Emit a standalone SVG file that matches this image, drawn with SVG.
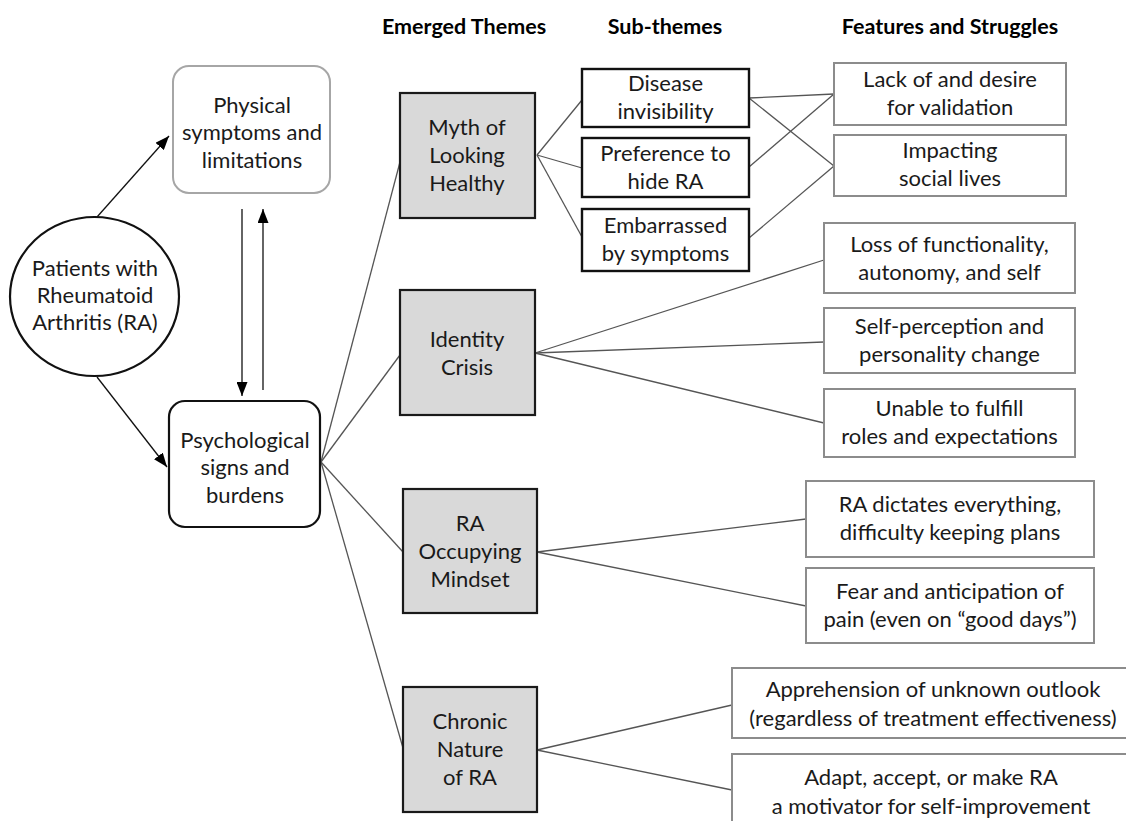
<svg xmlns="http://www.w3.org/2000/svg" width="1126" height="821" viewBox="0 0 1126 821">
<style>
text{font-family:Lato,"Liberation Sans",sans-serif;font-size:22px;fill:#1a1a1a;text-anchor:middle}
.hd{font-weight:bold;font-size:21.5px;fill:#000}
.theme{fill:#d9d9d9;stroke:#1a1a1a;stroke-width:2.2}
.sub{fill:#fff;stroke:#111;stroke-width:2.4}
.feat{fill:#fff;stroke:#8c8c8c;stroke-width:2}
.ln{stroke:#555;stroke-width:1.3;fill:none}
.ar{stroke:#111;stroke-width:1.3;fill:none;marker-end:url(#ah)}
</style>
<defs>
<marker id="ah" viewBox="0 0 14 11" refX="14" refY="5.5" markerWidth="14" markerHeight="11" markerUnits="userSpaceOnUse" orient="auto">
<path d="M0,0 L14,5.5 L0,11 Z" fill="#000"/>
</marker>
</defs>
<rect width="1126" height="821" fill="#fff"/>
<g id="headers">
<text class="hd" x="464" y="34">Emerged Themes</text>
<text class="hd" x="665" y="34">Sub-themes</text>
<text class="hd" x="950" y="34">Features and Struggles</text>
</g>
<g id="connectors">
<line class="ar" x1="97" y1="217" x2="169" y2="136"/>
<line class="ar" x1="97" y1="377" x2="167" y2="467"/>
<line class="ar" x1="242" y1="209" x2="242" y2="396"/>
<line class="ar" x1="263" y1="390" x2="263" y2="209"/>
<line class="ln" x1="321" y1="462" x2="400" y2="162"/>
<line class="ln" x1="321" y1="462" x2="400" y2="355"/>
<line class="ln" x1="321" y1="462" x2="403" y2="552"/>
<line class="ln" x1="321" y1="462" x2="403" y2="748"/>
<line class="ln" x1="537" y1="155" x2="582" y2="100"/>
<line class="ln" x1="537" y1="155" x2="582" y2="168"/>
<line class="ln" x1="537" y1="155" x2="582" y2="237"/>
<line class="ln" x1="749" y1="98" x2="834" y2="94"/>
<line class="ln" x1="749" y1="98" x2="834" y2="166"/>
<line class="ln" x1="749" y1="167" x2="834" y2="94"/>
<line class="ln" x1="749" y1="238" x2="834" y2="166"/>
<line class="ln" x1="535" y1="353" x2="824" y2="260"/>
<line class="ln" x1="535" y1="353" x2="824" y2="342"/>
<line class="ln" x1="535" y1="353" x2="824" y2="423"/>
<line class="ln" x1="537" y1="552" x2="806" y2="519"/>
<line class="ln" x1="537" y1="552" x2="806" y2="606"/>
<line class="ln" x1="537" y1="750" x2="732" y2="705"/>
<line class="ln" x1="537" y1="750" x2="732" y2="790"/>
</g>
<g id="patients">
<ellipse cx="94.5" cy="296.5" rx="84.5" ry="79.5" fill="#fff" stroke="#111" stroke-width="2.2"/>
<text x="95" y="276">Patients with</text>
<text x="95" y="303">Rheumatoid</text>
<text x="95" y="330">Arthritis (RA)</text>
</g>
<g id="physical">
<rect x="173" y="66" width="157" height="127" rx="16" fill="#fff" stroke="#a6a6a6" stroke-width="2"/>
<text x="252" y="113">Physical</text>
<text x="252" y="140">symptoms and</text>
<text x="252" y="168">limitations</text>
</g>
<g id="psychological">
<rect x="169" y="401" width="151" height="126" rx="16" fill="#fff" stroke="#111" stroke-width="2.2"/>
<text x="245" y="448">Psychological</text>
<text x="245" y="475">signs and</text>
<text x="245" y="503">burdens</text>
</g>
<g id="theme-myth">
<rect class="theme" x="400" y="93" width="135" height="125"/>
<text x="467" y="135">Myth of</text>
<text x="467" y="163">Looking</text>
<text x="467" y="191">Healthy</text>
</g>
<g id="theme-identity">
<rect class="theme" x="400" y="290" width="135" height="125"/>
<text x="467" y="347">Identity</text>
<text x="467" y="375">Crisis</text>
</g>
<g id="theme-occupying">
<rect class="theme" x="403" y="489" width="134" height="124"/>
<text x="470" y="531">RA</text>
<text x="470" y="559">Occupying</text>
<text x="470" y="587">Mindset</text>
</g>
<g id="theme-chronic">
<rect class="theme" x="403" y="687" width="134" height="125"/>
<text x="470" y="729">Chronic</text>
<text x="470" y="757">Nature</text>
<text x="470" y="785">of RA</text>
</g>
<g id="sub-invisibility">
<rect class="sub" x="582" y="69" width="167" height="58"/>
<text x="665.5" y="91">Disease</text>
<text x="665.5" y="119">invisibility</text>
</g>
<g id="sub-hide">
<rect class="sub" x="582" y="138" width="167" height="59"/>
<text x="665.5" y="161">Preference to</text>
<text x="665.5" y="189">hide RA</text>
</g>
<g id="sub-embarrassed">
<rect class="sub" x="582" y="209" width="167" height="62"/>
<text x="665.5" y="233">Embarrassed</text>
<text x="665.5" y="261">by symptoms</text>
</g>
<g id="feat-validation">
<rect class="feat" x="834" y="63" width="232" height="62"/>
<text x="950" y="87">Lack of and desire</text>
<text x="950" y="115">for validation</text>
</g>
<g id="feat-social">
<rect class="feat" x="834" y="135" width="232" height="61"/>
<text x="950" y="158">Impacting</text>
<text x="950" y="186">social lives</text>
</g>
<g id="feat-loss">
<rect class="feat" x="824" y="223" width="251" height="70"/>
<text x="949.5" y="252">Loss of functionality,</text>
<text x="949.5" y="280">autonomy, and self</text>
</g>
<g id="feat-selfperception">
<rect class="feat" x="824" y="308" width="251" height="65"/>
<text x="949.5" y="334">Self-perception and</text>
<text x="949.5" y="362">personality change</text>
</g>
<g id="feat-roles">
<rect class="feat" x="824" y="389" width="251" height="68"/>
<text x="949.5" y="416">Unable to fulfill</text>
<text x="949.5" y="444">roles and expectations</text>
</g>
<g id="feat-dictates">
<rect class="feat" x="806" y="481" width="288" height="76"/>
<text x="950" y="512">RA dictates everything,</text>
<text x="950" y="540">difficulty keeping plans</text>
</g>
<g id="feat-fear">
<rect class="feat" x="806" y="568" width="288" height="75"/>
<text x="950" y="599">Fear and anticipation of</text>
<text x="950" y="627">pain (even on “good days”)</text>
</g>
<g id="feat-apprehension">
<rect class="feat" x="732" y="668" width="400" height="70"/>
<text x="933" y="697">Apprehension of unknown outlook</text>
<text x="933" y="726">(regardless of treatment effectiveness)</text>
</g>
<g id="feat-adapt">
<rect class="feat" x="732" y="754" width="400" height="90"/>
<text x="931" y="785">Adapt, accept, or make RA</text>
<text x="931" y="814">a motivator for self-improvement</text>
</g>
</svg>
